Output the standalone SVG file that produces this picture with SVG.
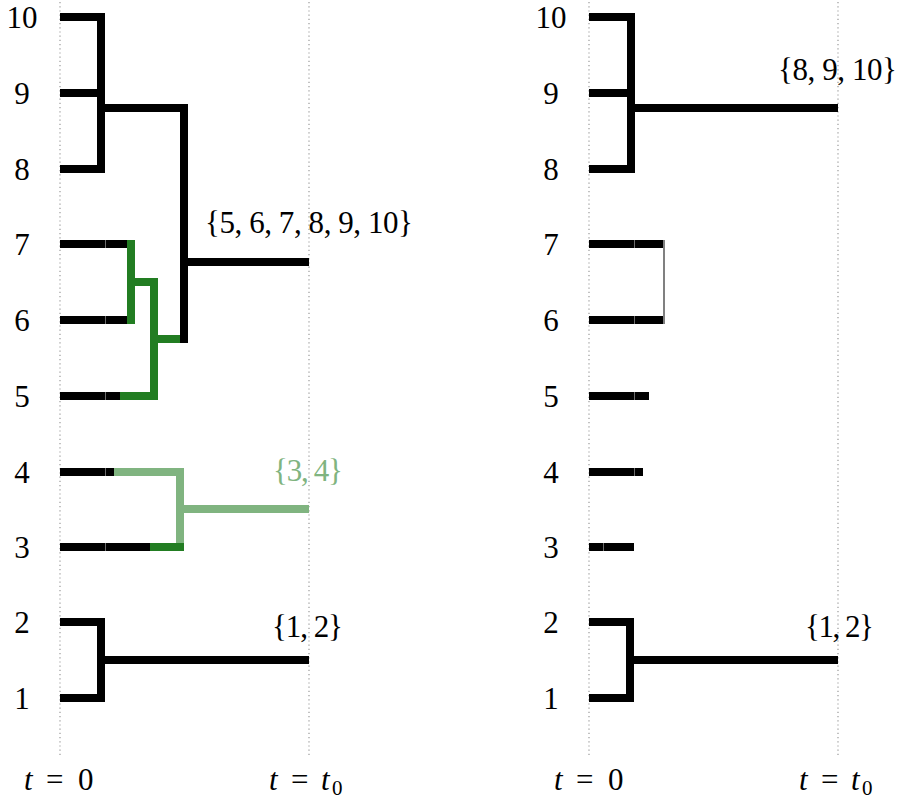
<svg xmlns="http://www.w3.org/2000/svg" width="901" height="801" viewBox="0 0 901 801">
<style>
.ln{fill:none;stroke:#000;stroke-width:8;stroke-linejoin:miter;stroke-linecap:butt}
.g{stroke:#227d22}
.lg{stroke:#80b480}
.gr{fill:none;stroke:#808080;stroke-width:2}
.sm{fill:none;stroke:#888;stroke-width:0.8}
.dot{fill:none;stroke:#999;stroke-width:1.2;stroke-dasharray:1.2 3}
text{font-family:"Liberation Serif","DejaVu Serif",serif;font-size:31px;fill:#000}
.row{text-anchor:middle}
.it{font-style:italic}
</style>
<rect width="901" height="801" fill="#fff"/>
<g id="guides">
<line class="dot" x1="60" y1="2" x2="60" y2="755"/>
<line class="dot" x1="309" y1="2" x2="309" y2="755"/>
<line class="dot" x1="589" y1="2" x2="589" y2="755"/>
<line class="dot" x1="838" y1="2" x2="838" y2="755"/>
</g>
<g id="left-labels">
<text class="row" x="22" y="28">10</text>
<text class="row" x="22" y="104">9</text>
<text class="row" x="22" y="180">8</text>
<text class="row" x="22" y="255">7</text>
<text class="row" x="22" y="331">6</text>
<text class="row" x="22" y="407">5</text>
<text class="row" x="22" y="483">4</text>
<text class="row" x="22" y="558">3</text>
<text class="row" x="22" y="633">2</text>
<text class="row" x="22" y="709">1</text>
</g>
<g id="right-labels">
<text class="row" x="551" y="28">10</text>
<text class="row" x="551" y="104">9</text>
<text class="row" x="551" y="180">8</text>
<text class="row" x="551" y="255">7</text>
<text class="row" x="551" y="331">6</text>
<text class="row" x="551" y="407">5</text>
<text class="row" x="551" y="483">4</text>
<text class="row" x="551" y="558">3</text>
<text class="row" x="551" y="633">2</text>
<text class="row" x="551" y="709">1</text>
</g>
<g id="connectors">
<path class="ln" d="M60,244 H105.5 M105.5,244 H131 M60,320 H105.5 M105.5,320 H131 M60,396 H105.5 M105.5,396 H120 M60,472 H105.5 M105.5,472 H114 M60,547 H105.5 M105.5,547 H150"/>
<path class="ln lg" d="M114,472 H180 V547 M180,509 H309"/>
<path class="ln g" d="M150,547 H184"/>
<path class="ln g" d="M131,240 V324"/>
<path class="ln g" d="M131,282 H154 V396 H120 M154,339 H184"/>
<path class="ln" d="M60,17 H101 V169 H60 M60,93 H101"/>
<path class="ln" d="M101,108 H184 V343 M184,262 H309"/>
<path class="ln" d="M60,622 H101 V698 H60 M101,660 H309"/>
<path class="ln" d="M589,17 H631 V169 H589 M589,93 H631 M631,108 H838"/>
<path class="ln" d="M589,244 H634.5 M634.5,244 H663 M589,320 H634.5 M634.5,320 H663 M589,396 H634.5 M634.5,396 H649 M589,472 H634.5 M634.5,472 H643 M589,547 H603.5 M603.5,547 H634"/>
<line class="gr" x1="664" y1="240" x2="664" y2="324"/>
<path class="ln" d="M589,622 H630 V698 H589 M630,660 H838"/>
<path class="sm" d="M105.5,240 V248 M105.5,316 V324 M105.5,392 V400 M105.5,468 V476 M105.5,543 V551 M634.5,240 V248 M634.5,316 V324 M634.5,392 V400 M634.5,468 V476 M603.5,543 V551"/>
</g>
<g id="set-labels">
<text x="205" y="233" textLength="208" lengthAdjust="spacing">{5, 6, 7, 8, 9, 10}</text>
<text x="273" y="481" textLength="70" lengthAdjust="spacing" style="fill:#80b480">{3, 4}</text>
<text x="272" y="637" textLength="71" lengthAdjust="spacing">{1, 2}</text>
<text x="778" y="80" textLength="119" lengthAdjust="spacing">{8, 9, 10}</text>
<text x="805" y="637" textLength="69" lengthAdjust="spacing">{1, 2}</text>
</g>
<g id="axis-labels">
<text y="790"><tspan class="it" x="24">t</tspan><tspan x="46">=</tspan><tspan x="78">0</tspan></text>
<text y="790"><tspan class="it" x="269">t</tspan><tspan x="291">=</tspan><tspan class="it" x="321">t</tspan><tspan x="332" y="795" style="font-size:21px">0</tspan></text>
<text y="790"><tspan class="it" x="554">t</tspan><tspan x="576">=</tspan><tspan x="608">0</tspan></text>
<text y="790"><tspan class="it" x="799">t</tspan><tspan x="821">=</tspan><tspan class="it" x="851">t</tspan><tspan x="862" y="795" style="font-size:21px">0</tspan></text>
</g>
</svg>
